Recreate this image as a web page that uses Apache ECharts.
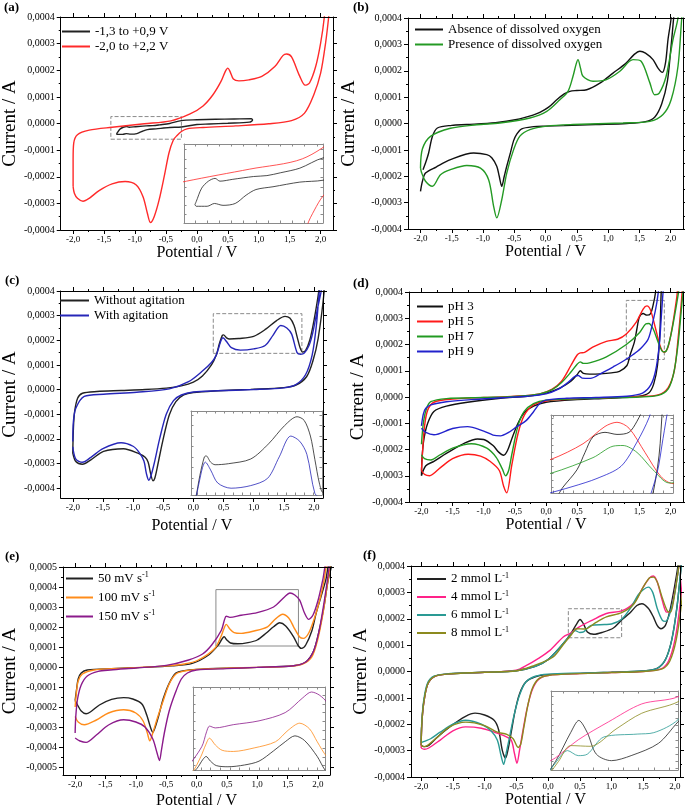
<!DOCTYPE html>
<html>
<head>
<meta charset="utf-8">
<script src="https://cdn.jsdelivr.net/npm/echarts@6/dist/echarts.min.js"></script>
<style>
html, body { margin: 0; padding: 0; background: #fff; }
#main { width: 685px; height: 810px; }
</style>
</head>
<body>
<div id="main"></div>
<script>
// currents are written in units of 1e-4 A, potentials in V
const UNIT = 1e-4;

const potMajor = [-2, -1.5, -1, -0.5, 0, 0.5, 1, 1.5, 2];
const potMinor = [-1.75, -1.25, -0.75, -0.25, 0.25, 0.75, 1.25, 1.75];
const curMajor4 = [-4, -3, -2, -1, 0, 1, 2, 3, 4];
const curMinor4 = [-3.5, -2.5, -1.5, -0.5, 0.5, 1.5, 2.5, 3.5];
const curMajor5 = [-5, -4, -3, -2, -1, 0, 1, 2, 3, 4, 5];
const curMinor5 = [-4.5, -3.5, -2.5, -1.5, -0.5, 0.5, 1.5, 2.5, 3.5, 4.5];

// (a) scan window
const aNarrow = [[-1.30,-0.39],[-1.29,-0.36],[-1.245,-0.215],[-1.19,-0.14],[-1.135,-0.11],[-1.095,-0.14],[-0.99,-0.12],[-0.82,-0.09],[-0.71,-0.08],[-0.6,-0.05],[-0.44,0.0],[-0.25,0.11],[0.0,0.14],[0.3,0.16],[0.6,0.17],[0.88,0.18],[0.9,0.13],[0.85,0.05],[0.5,0.01],[0.2,-0.02],[0.0,-0.04],[-0.25,-0.13],[-0.44,-0.15],[-0.66,-0.2],[-0.8,-0.23],[-0.88,-0.29],[-0.97,-0.38],[-1.07,-0.40],[-1.14,-0.38],[-1.2,-0.41],[-1.29,-0.41],[-1.30,-0.39]];
const aWide = [[-2.0,-2.37],[-2.0,-1.37],[-1.99,-0.74],[-1.93,-0.42],[-1.74,-0.25],[-1.37,-0.14],[-0.85,-0.01],[-0.42,0.10],[-0.11,0.36],[0.10,0.66],[0.26,1.08],[0.39,1.58],[0.46,1.96],[0.50,2.08],[0.535,1.96],[0.59,1.67],[0.68,1.60],[0.84,1.64],[1.05,1.77],[1.26,2.14],[1.39,2.55],[1.45,2.61],[1.53,2.50],[1.66,1.79],[1.75,1.44],[1.82,1.52],[1.92,2.14],[2.0,3.02],[2.06,4.0],[2.13,5.9],[2.21,5.9],[2.13,4.0],[2.08,3.02],[2.0,1.89],[1.89,1.08],[1.74,0.39],[1.53,0.11],[1.16,-0.01],[0.63,-0.09],[0.10,-0.15],[-0.16,-0.2],[-0.25,-0.30],[-0.32,-0.45],[-0.38,-0.62],[-0.45,-1.1],[-0.52,-1.9],[-0.61,-2.87],[-0.69,-3.5],[-0.75,-3.72],[-0.80,-3.37],[-0.87,-2.75],[-0.98,-2.31],[-1.16,-2.18],[-1.37,-2.27],[-1.58,-2.52],[-1.74,-2.81],[-1.84,-2.92],[-1.93,-2.81],[-1.98,-2.62],[-2.0,-2.37]];
const aWindow = [[-1.39, -0.59], [-0.25, 0.26]];

// (b) dissolved oxygen
const bAbsent = [[-1.96,-1.75],[-1.92,-1.5],[-1.87,-1.12],[-1.81,-0.49],[-1.73,-0.17],[-1.5,-0.07],[-1.26,-0.04],[-0.8,0.03],[-0.46,0.15],[-0.2,0.32],[-0.09,0.42],[0.05,0.62],[0.18,0.9],[0.3,1.12],[0.39,1.22],[0.5,1.25],[0.66,1.28],[0.87,1.53],[1.08,1.91],[1.29,2.29],[1.42,2.62],[1.51,2.74],[1.6,2.67],[1.72,2.42],[1.8,2.1],[1.87,1.94],[1.92,2.3],[1.96,3.18],[2.01,4.0],[2.05,5.5],[2.1,5.5],[2.05,4.0],[2.0,2.7],[1.95,1.6],[1.86,0.75],[1.75,0.25],[1.6,0.07],[1.3,0.0],[0.8,-0.04],[0.3,-0.08],[0.0,-0.1],[-0.19,-0.12],[-0.38,-0.2],[-0.46,-0.4],[-0.51,-0.65],[-0.56,-1.1],[-0.62,-1.62],[-0.66,-2.0],[-0.7,-2.38],[-0.74,-2.0],[-0.78,-1.62],[-0.86,-1.3],[-0.94,-1.18],[-1.15,-1.12],[-1.52,-1.37],[-1.75,-1.65],[-1.92,-1.88],[-1.97,-2.2],[-2.0,-2.57]];
const bPresent = [[-2.0,-1.69],[-1.97,-0.97],[-1.84,-0.49],[-1.52,-0.18],[-1.1,-0.05],[-0.73,0.02],[-0.25,0.21],[0.02,0.46],[0.23,0.90],[0.36,1.22],[0.44,1.79],[0.49,2.25],[0.52,2.42],[0.56,2.1],[0.6,1.79],[0.76,1.6],[0.975,1.66],[1.19,1.98],[1.40,2.42],[1.53,2.36],[1.67,1.54],[1.745,1.09],[1.82,1.15],[1.93,1.79],[2.04,3.18],[2.12,4.0],[2.18,5.5],[2.24,5.5],[2.18,4.0],[2.12,2.17],[2.01,0.9],[1.88,0.34],[1.67,0.08],[1.24,0.02],[0.44,-0.04],[0.02,-0.1],[-0.25,-0.23],[-0.41,-0.48],[-0.51,-0.99],[-0.62,-1.88],[-0.70,-2.89],[-0.78,-3.58],[-0.83,-3.14],[-0.91,-2.13],[-1.04,-1.69],[-1.26,-1.59],[-1.52,-1.75],[-1.68,-1.94],[-1.81,-2.38],[-1.92,-2.19],[-1.98,-1.88],[-2.0,-1.69]];

// (c) agitation
const cStill = [[-2.0,-2.58],[-1.99,-1.6],[-1.97,-0.9],[-1.92,-0.35],[-1.84,-0.15],[-1.6,-0.08],[-1.2,-0.04],[-0.8,0.0],[-0.45,0.06],[-0.2,0.15],[0.0,0.3],[0.15,0.55],[0.3,1.0],[0.38,1.4],[0.43,1.85],[0.48,2.2],[0.5,2.22],[0.55,2.1],[0.6,2.05],[0.75,2.07],[1.0,2.16],[1.2,2.45],[1.38,2.8],[1.52,2.97],[1.6,2.9],[1.67,2.6],[1.72,2.15],[1.77,1.7],[1.81,1.52],[1.86,1.58],[1.93,2.0],[2.0,2.8],[2.08,4.0],[2.14,5.3],[2.2,5.3],[2.17,4.0],[2.07,2.08],[1.98,1.14],[1.88,0.53],[1.71,0.19],[1.5,0.08],[0.95,0.01],[0.41,-0.05],[0.0,-0.12],[-0.16,-0.22],[-0.29,-0.49],[-0.4,-1.03],[-0.51,-2.11],[-0.59,-3.05],[-0.64,-3.6],[-0.67,-3.7],[-0.71,-3.4],[-0.75,-2.95],[-0.8,-2.75],[-0.92,-2.58],[-1.16,-2.4],[-1.49,-2.51],[-1.7,-2.85],[-1.84,-3.03],[-1.95,-2.92],[-2.0,-2.58]];
const cStirred = [[-2.0,-2.11],[-1.99,-1.3],[-1.95,-0.76],[-1.81,-0.28],[-1.49,-0.19],[-0.94,-0.11],[-0.4,0.03],[-0.08,0.32],[0.14,0.73],[0.3,1.1],[0.38,1.4],[0.42,1.7],[0.46,2.0],[0.49,2.1],[0.55,1.95],[0.63,1.7],[0.78,1.6],[1.0,1.65],[1.19,1.79],[1.32,2.2],[1.45,2.6],[1.55,2.5],[1.63,2.25],[1.72,1.5],[1.78,1.43],[1.84,1.48],[1.92,1.8],[1.98,2.3],[2.06,3.3],[2.12,4.0],[2.17,5.05],[2.15,5.05],[2.09,4.0],[2.04,2.6],[1.97,1.4],[1.86,0.6],[1.7,0.2],[1.5,0.07],[1.0,0.0],[0.4,-0.05],[0.0,-0.1],[-0.2,-0.22],[-0.33,-0.45],[-0.45,-1.0],[-0.56,-2.0],[-0.65,-3.0],[-0.71,-3.55],[-0.74,-3.68],[-0.78,-3.4],[-0.82,-2.9],[-0.9,-2.55],[-1.0,-2.3],[-1.2,-2.16],[-1.5,-2.4],[-1.7,-2.75],[-1.84,-2.95],[-1.95,-2.82],[-2.0,-2.32]];
const cWindow = [[0.33, 1.47], [1.8, 3.08]];

// (d) pH
const dPH3 = [[-2.0,-3.0],[-1.99,-2.3],[-1.96,-1.6],[-1.9,-1.0],[-1.8,-0.55],[-1.6,-0.35],[-1.26,-0.2],[-0.73,-0.05],[-0.3,0.03],[0.0,0.15],[0.23,0.35],[0.4,0.6],[0.5,0.85],[0.55,1.0],[0.6,0.9],[0.7,0.87],[0.87,0.88],[1.05,0.92],[1.18,0.98],[1.3,1.2],[1.35,1.6],[1.42,2.1],[1.46,2.6],[1.5,3.05],[1.56,3.18],[1.62,3.12],[1.68,3.18],[1.72,3.5],[1.76,4.0],[1.8,5.0],[1.88,5.0],[1.85,4.0],[1.83,2.5],[1.79,1.2],[1.73,0.5],[1.65,0.15],[1.5,0.03],[1.0,-0.05],[0.5,-0.1],[0.0,-0.2],[-0.2,-0.35],[-0.35,-0.6],[-0.45,-1.0],[-0.55,-1.6],[-0.62,-2.05],[-0.68,-2.22],[-0.76,-2.1],[-0.85,-1.85],[-1.0,-1.62],[-1.1,-1.6],[-1.3,-1.75],[-1.6,-2.15],[-1.8,-2.45],[-1.93,-2.62],[-2.0,-3.0]];
const dPH5 = [[-2.0,-2.8],[-1.98,-2.0],[-1.95,-1.1],[-1.9,-0.5],[-1.8,-0.2],[-1.5,-0.08],[-1.0,-0.02],[-0.5,0.03],[-0.1,0.12],[0.1,0.3],[0.25,0.6],[0.4,1.2],[0.5,1.6],[0.55,1.68],[0.62,1.7],[0.75,1.9],[0.97,2.12],[1.15,2.2],[1.29,2.4],[1.45,2.85],[1.56,3.35],[1.62,3.47],[1.68,3.3],[1.76,2.6],[1.84,1.9],[1.9,1.7],[1.96,1.9],[2.03,2.7],[2.1,3.8],[2.14,4.5],[2.2,4.5],[2.17,3.5],[2.12,2.2],[2.06,1.0],[1.96,0.35],[1.8,0.08],[1.5,0.02],[1.0,-0.03],[0.5,-0.07],[0.0,-0.15],[-0.2,-0.3],[-0.35,-0.7],[-0.45,-1.4],[-0.55,-2.6],[-0.63,-3.65],[-0.68,-3.4],[-0.75,-2.8],[-0.9,-2.45],[-1.05,-2.25],[-1.25,-2.18],[-1.5,-2.35],[-1.7,-2.7],[-1.87,-3.0],[-1.95,-2.95],[-2.0,-2.8]];
const dPH7 = [[-2.0,-1.8],[-1.97,-1.0],[-1.92,-0.45],[-1.85,-0.18],[-1.6,-0.06],[-1.0,-0.02],[-0.5,0.02],[-0.1,0.12],[0.1,0.28],[0.25,0.55],[0.4,0.95],[0.5,1.25],[0.55,1.34],[0.6,1.28],[0.7,1.3],[0.97,1.53],[1.29,2.0],[1.5,2.45],[1.6,2.78],[1.65,2.8],[1.72,2.6],[1.8,2.1],[1.88,1.72],[1.93,1.75],[2.0,2.3],[2.08,3.3],[2.15,4.3],[2.2,5.0],[2.24,5.0],[2.18,3.5],[2.12,2.0],[2.05,0.9],[1.96,0.3],[1.8,0.06],[1.5,0.0],[1.0,-0.03],[0.5,-0.07],[0.0,-0.12],[-0.2,-0.25],[-0.35,-0.55],[-0.45,-1.1],[-0.55,-2.2],[-0.6,-2.8],[-0.65,-3.0],[-0.7,-2.75],[-0.8,-2.3],[-0.95,-1.95],[-1.2,-1.78],[-1.5,-1.95],[-1.7,-2.2],[-1.85,-2.4],[-1.95,-2.35],[-2.0,-2.2]];
const dPH9 = [[-2.0,-1.1],[-1.97,-0.65],[-1.93,-0.43],[-1.85,-0.3],[-1.6,-0.18],[-1.2,-0.1],[-0.7,-0.03],[-0.3,0.03],[0.0,0.12],[0.2,0.3],[0.35,0.55],[0.46,0.78],[0.52,0.82],[0.58,0.72],[0.71,0.71],[0.9,0.92],[1.08,1.15],[1.25,1.38],[1.4,1.62],[1.52,1.85],[1.64,2.2],[1.72,2.9],[1.78,3.6],[1.83,4.5],[1.86,5.0],[1.92,5.0],[1.88,4.0],[1.85,3.0],[1.82,2.0],[1.76,1.0],[1.68,0.45],[1.55,0.15],[1.3,0.03],[0.8,-0.02],[0.33,-0.05],[0.0,-0.12],[-0.1,-0.25],[-0.2,-0.56],[-0.32,-0.9],[-0.47,-1.13],[-0.6,-1.35],[-0.73,-1.48],[-0.85,-1.45],[-1.0,-1.3],[-1.26,-1.13],[-1.5,-1.2],[-1.8,-1.44],[-1.93,-1.35],[-2.0,-1.19]];
const dWindow = [[1.29, 1.43], [1.9, 3.68]];

// (e) scan rate
const e50 = [[-2.0,-1.68],[-1.98,-1.2],[-1.95,-0.6],[-1.9,-0.3],[-1.8,-0.15],[-1.4,-0.08],[-0.88,-0.02],[-0.4,0.06],[-0.07,0.18],[0.2,0.6],[0.36,1.1],[0.42,1.4],[0.455,1.51],[0.5,1.35],[0.56,1.2],[0.68,1.16],[0.85,1.22],[1.0,1.35],[1.15,1.7],[1.27,2.01],[1.37,2.21],[1.47,2.05],[1.6,1.51],[1.68,1.05],[1.73,0.93],[1.8,1.1],[1.9,1.8],[1.97,2.67],[2.05,3.5],[2.13,4.34],[2.2,5.3],[2.25,5.3],[2.17,4.34],[2.1,3.0],[2.02,1.8],[1.93,0.8],[1.8,0.25],[1.6,0.06],[1.0,-0.02],[0.5,-0.06],[0.0,-0.12],[-0.2,-0.18],[-0.34,-0.3],[-0.45,-0.81],[-0.55,-1.6],[-0.62,-2.4],[-0.68,-3.0],[-0.72,-3.26],[-0.76,-3.0],[-0.82,-2.4],[-0.9,-1.85],[-1.05,-1.6],[-1.2,-1.53],[-1.4,-1.62],[-1.6,-1.9],[-1.75,-2.25],[-1.82,-2.34],[-1.9,-2.2],[-1.96,-1.9],[-2.0,-1.68]];
const e100 = [[-2.0,-2.0],[-1.98,-1.3],[-1.95,-0.7],[-1.88,-0.35],[-1.69,-0.15],[-1.3,-0.07],[-0.6,0.03],[-0.2,0.15],[0.03,0.35],[0.3,0.93],[0.4,1.5],[0.45,1.9],[0.49,2.13],[0.55,1.9],[0.62,1.72],[0.735,1.68],[0.95,1.8],[1.17,2.01],[1.3,2.4],[1.42,2.64],[1.52,2.45],[1.6,2.01],[1.7,1.5],[1.76,1.43],[1.85,1.7],[1.95,2.5],[2.03,3.34],[2.1,4.3],[2.17,5.3],[2.22,5.3],[2.15,4.0],[2.08,2.6],[2.0,1.4],[1.9,0.5],[1.75,0.15],[1.5,0.03],[1.0,-0.02],[0.5,-0.06],[0.0,-0.12],[-0.2,-0.2],[-0.34,-0.35],[-0.45,-0.85],[-0.55,-1.7],[-0.65,-2.6],[-0.72,-3.3],[-0.77,-3.69],[-0.81,-3.3],[-0.88,-2.7],[-1.0,-2.3],[-1.2,-2.14],[-1.45,-2.3],[-1.65,-2.65],[-1.85,-2.89],[-1.95,-2.75],[-2.0,-2.47]];
const e150 = [[-2.0,-3.3],[-1.99,-2.5],[-1.96,-1.6],[-1.9,-0.9],[-1.8,-0.45],[-1.62,-0.22],[-1.42,-0.15],[-1.0,-0.05],[-0.5,0.08],[-0.13,0.35],[0.1,0.65],[0.25,1.1],[0.41,1.84],[0.46,2.35],[0.49,2.54],[0.55,2.48],[0.735,2.59],[1.0,2.72],[1.27,3.0],[1.45,3.5],[1.54,3.70],[1.62,3.6],[1.70,3.34],[1.78,2.7],[1.85,2.38],[1.92,2.6],[2.0,3.3],[2.08,4.34],[2.15,5.3],[2.2,5.3],[2.15,4.2],[2.09,3.0],[2.02,1.8],[1.93,0.8],[1.8,0.25],[1.6,0.06],[1.0,-0.02],[0.5,-0.08],[0.0,-0.15],[-0.15,-0.3],[-0.25,-0.6],[-0.35,-1.3],[-0.45,-2.2],[-0.53,-3.3],[-0.58,-4.2],[-0.61,-4.68],[-0.65,-4.3],[-0.72,-3.6],[-0.85,-3.0],[-1.0,-2.75],[-1.2,-2.64],[-1.45,-2.9],[-1.65,-3.4],[-1.82,-3.77],[-1.92,-3.7],[-2.0,-3.55]];
const eWindow = [[0.32, 1.05], [1.68, 3.87]];

// (f) concentration
const f2 = [[-2.0,-2.8],[-1.99,-2.0],[-1.96,-1.2],[-1.9,-0.5],[-1.8,-0.2],[-1.6,-0.1],[-1.0,-0.03],[-0.5,0.03],[-0.2,0.2],[0.0,0.45],[0.2,0.95],[0.35,1.4],[0.45,1.8],[0.504,1.97],[0.56,1.8],[0.62,1.5],[0.72,1.41],[0.85,1.48],[1.03,1.65],[1.16,1.95],[1.29,2.22],[1.4,2.5],[1.48,2.57],[1.58,2.4],[1.66,2.07],[1.72,1.75],[1.78,1.62],[1.85,1.75],[1.92,2.3],[2.0,3.3],[2.06,4.2],[2.12,5.3],[2.16,5.3],[2.1,4.0],[2.03,2.4],[1.95,1.2],[1.85,0.45],[1.72,0.12],[1.5,0.02],[1.0,-0.03],[0.5,-0.07],[0.0,-0.12],[-0.2,-0.2],[-0.35,-0.4],[-0.45,-0.85],[-0.52,-1.5],[-0.58,-2.3],[-0.63,-2.95],[-0.67,-3.28],[-0.72,-3.0],[-0.78,-2.2],[-0.85,-1.85],[-1.0,-1.65],[-1.15,-1.58],[-1.3,-1.7],[-1.55,-2.1],[-1.75,-2.5],[-1.88,-2.8],[-1.95,-2.85],[-2.0,-2.8]];
const f4 = [[-2.0,-2.9],[-1.99,-2.0],[-1.96,-1.2],[-1.9,-0.5],[-1.8,-0.2],[-1.6,-0.1],[-1.0,-0.03],[-0.5,0.05],[-0.34,0.23],[-0.15,0.5],[0.03,0.8],[0.24,1.31],[0.35,1.45],[0.5,1.7],[0.7,1.95],[0.92,2.2],[1.16,2.3],[1.35,2.6],[1.5,3.2],[1.6,3.55],[1.66,3.62],[1.72,3.4],[1.8,2.7],[1.87,2.25],[1.92,2.25],[1.98,2.8],[2.05,3.8],[2.1,4.6],[2.15,5.3],[2.2,5.3],[2.14,4.0],[2.08,2.5],[2.0,1.2],[1.9,0.4],[1.78,0.1],[1.5,0.0],[1.0,-0.04],[0.5,-0.08],[0.0,-0.15],[-0.15,-0.3],[-0.25,-0.7],[-0.33,-1.4],[-0.4,-2.3],[-0.45,-3.0],[-0.49,-3.48],[-0.53,-3.1],[-0.58,-2.6],[-0.68,-2.45],[-0.85,-2.3],[-1.05,-2.15],[-1.3,-2.1],[-1.5,-2.25],[-1.7,-2.6],[-1.88,-2.9],[-1.95,-2.95],[-2.0,-2.9]];
const f6 = [[-2.0,-2.7],[-1.99,-1.9],[-1.96,-1.1],[-1.9,-0.45],[-1.8,-0.18],[-1.6,-0.09],[-1.0,-0.03],[-0.5,0.03],[-0.2,0.2],[0.0,0.45],[0.2,0.95],[0.35,1.38],[0.43,1.55],[0.5,1.48],[0.56,1.5],[0.67,1.74],[0.89,1.78],[1.0,1.8],[1.16,1.98],[1.3,2.4],[1.42,2.9],[1.5,3.1],[1.58,3.2],[1.65,3.0],[1.72,2.4],[1.8,1.95],[1.85,1.9],[1.92,2.2],[2.0,3.0],[2.06,4.0],[2.12,5.3],[2.16,5.3],[2.1,4.0],[2.03,2.4],[1.95,1.2],[1.85,0.45],[1.72,0.12],[1.5,0.02],[1.0,-0.03],[0.5,-0.06],[0.0,-0.1],[-0.2,-0.18],[-0.35,-0.4],[-0.45,-0.9],[-0.53,-1.6],[-0.6,-2.4],[-0.66,-3.1],[-0.7,-3.52],[-0.74,-3.2],[-0.8,-2.6],[-0.9,-2.25],[-1.05,-2.0],[-1.3,-1.85],[-1.5,-2.0],[-1.7,-2.3],[-1.85,-2.55],[-1.95,-2.65],[-2.0,-2.7]];
const f8 = [[-2.0,-2.8],[-1.99,-2.0],[-1.96,-1.2],[-1.9,-0.5],[-1.8,-0.2],[-1.6,-0.1],[-1.0,-0.03],[-0.5,0.03],[-0.25,0.2],[0.08,0.55],[0.25,1.05],[0.37,1.4],[0.45,1.62],[0.58,1.61],[0.75,1.85],[0.92,2.07],[1.16,2.23],[1.35,2.55],[1.5,3.2],[1.6,3.55],[1.66,3.58],[1.72,3.4],[1.8,2.8],[1.88,2.3],[1.93,2.25],[1.98,2.7],[2.05,3.8],[2.1,4.6],[2.16,5.3],[2.22,5.3],[2.16,4.0],[2.1,2.5],[2.02,1.2],[1.92,0.4],[1.8,0.1],[1.5,0.0],[1.0,-0.04],[0.5,-0.08],[0.0,-0.15],[-0.15,-0.28],[-0.25,-0.65],[-0.32,-1.3],[-0.38,-2.1],[-0.43,-2.75],[-0.47,-2.88],[-0.55,-2.55],[-0.65,-2.38],[-0.8,-2.3],[-1.0,-2.05],[-1.3,-1.92],[-1.55,-2.1],[-1.75,-2.5],[-1.9,-2.8],[-1.96,-2.85],[-2.0,-2.8]];
const fWindow = [[0.32, 1.28], [1.16, 2.38]];

const SERIF = '"Liberation Serif", "Times New Roman", serif';

const panels = [
  { label: '(a)', labelPos: [4, 1], grid: { left: 54, top: 17, width: 279, height: 213 },
    xr: [-2.2, 2.2], yr: [-4, 4], yMajor: curMajor4, yMinor: curMinor4, xGap: 15, yGap: 37,
    legend: { left: 62, top: 24, itemWidth: 28, lineHeight: 15 },
    lines: [ { name: '-1,3 to +0,9 V', data: aNarrow, color: '#222' },
             { name: '-2,0 to +2,2 V', data: aWide, color: '#ff2a2a' } ],
    win: aWindow, winType: 'dashed', inset: { left: 184, top: 144, width: 139, height: 79 } },
  { label: '(b)', labelPos: [353, 1], grid: { left: 408, top: 18, width: 275, height: 211 },
    xr: [-2.2, 2.2], yr: [-4, 4], yMajor: curMajor4, yMinor: curMinor4, xGap: 15, yGap: 49,
    legend: { left: 415, top: 22, itemWidth: 28, lineHeight: 15 },
    lines: [ { name: 'Absence of dissolved oxygen', data: bAbsent, color: '#111' },
             { name: 'Presence of dissolved oxygen', data: bPresent, color: '#249a24' } ] },
  { label: '(c)', labelPos: [5, 274], grid: { left: 56, top: 291, width: 267, height: 207 },
    xr: [-2.2, 2.15], yr: [-4.4, 4], yMajor: curMajor4, yMinor: curMinor4, xGap: 20, yGap: 38,
    legend: { left: 60, top: 293, itemWidth: 29, lineHeight: 15 },
    lines: [ { name: 'Without agitation', data: cStill, color: '#222' },
             { name: 'With agitation', data: cStirred, color: '#2626b8' } ],
    win: cWindow, winType: 'dashed', inset: { left: 191, top: 411, width: 131, height: 84 } },
  { label: '(d)', labelPos: [353, 277], grid: { left: 409, top: 292, width: 274, height: 210 },
    xr: [-2.2, 2.2], yr: [-4, 4], yMajor: curMajor4, yMinor: curMinor4, xGap: 13, yGap: 41,
    legend: { left: 417, top: 299, itemWidth: 26, lineHeight: 15 },
    lines: [ { name: 'pH 3', data: dPH3, color: '#111' },
             { name: 'pH 5', data: dPH5, color: '#ff1a1a' },
             { name: 'pH 7', data: dPH7, color: '#229a22' },
             { name: 'pH 9', data: dPH9, color: '#2222cc' } ],
    win: dWindow, winType: 'dashed', inset: { left: 551, top: 415, width: 122, height: 78 } },
  { label: '(e)', labelPos: [5, 550], grid: { left: 59, top: 567, width: 271, height: 209 },
    xr: [-2.2, 2.2], yr: [-5.4, 5], yMajor: curMajor5, yMinor: curMinor5, xGap: 18, yGap: 43,
    legend: { left: 66, top: 569, itemWidth: 27, lineHeight: 19 },
    lines: [ { name: '50 mV s-1', data: e50, color: '#222' },
             { name: '100 mV s-1', data: e100, color: '#ff8c1a' },
             { name: '150 mV s-1', data: e150, color: '#8b1a8b' } ],
    win: eWindow, winType: 'solid', inset: { left: 193, top: 687, width: 132, height: 83 } },
  { label: '(f)', labelPos: [363, 549], grid: { left: 411, top: 566, width: 269, height: 211 },
    xr: [-2.16, 2.08], yr: [-4, 4], yMajor: curMajor4, yMinor: curMinor4, xGap: 15, yGap: 40,
    legend: { left: 417, top: 570, itemWidth: 29, lineHeight: 18 },
    lines: [ { name: '2 mmol L-1', data: f2, color: '#222' },
             { name: '4 mmol L-1', data: f4, color: '#ff2288' },
             { name: '6 mmol L-1', data: f6, color: '#2a9a94' },
             { name: '8 mmol L-1', data: f8, color: '#8c8a1e' } ],
    win: fWindow, winType: 'dashed', inset: { left: 551, top: 691, width: 127, height: 79 } }
];

const fmtPot = v => (Math.abs(v) < 1e-9 ? 0 : v).toFixed(1).replace('.', ',');
const fmtCur = v => (Math.abs(v) < 1e-12 ? 0 : v).toFixed(4).replace('.', ',');
const toAmp = pts => pts.map(p => [p[0], p[1] * UNIT]);

const grids = [], xAxes = [], yAxes = [], series = [], legends = [], graphics = [];
const black = { color: '#000', width: 1 };

panels.forEach(p => {
  const gi = grids.length;
  grids.push(Object.assign({ containLabel: false }, p.grid));
  const ymin = p.yr[0] * UNIT, ymax = p.yr[1] * UNIT;
  const yMaj = p.yMajor.map(v => v * UNIT), yMin = p.yMinor.map(v => v * UNIT);
  const xBase = { gridIndex: gi, type: 'value', min: p.xr[0], max: p.xr[1], splitLine: { show: false }, z: 3 };
  const yBase = { gridIndex: gi, type: 'value', min: ymin, max: ymax, splitLine: { show: false }, z: 3 };
  const xi = xAxes.length;
  xAxes.push(Object.assign({}, xBase, {
    position: 'bottom',
    axisLine: { onZero: false, lineStyle: black },
    axisTick: { customValues: potMajor, length: 4, lineStyle: black },
    axisLabel: { customValues: potMajor, formatter: fmtPot, fontSize: 9, margin: 5, color: '#000', fontFamily: SERIF },
    name: 'Potential / V', nameLocation: 'middle', nameGap: p.xGap,
    nameTextStyle: { fontSize: 16, fontFamily: SERIF, color: '#000' }
  }));
  xAxes.push(Object.assign({}, xBase, { position: 'bottom', axisLine: { show: false, onZero: false },
    axisTick: { customValues: potMinor, length: 2, lineStyle: black }, axisLabel: { show: false } }));
  xAxes.push(Object.assign({}, xBase, { position: 'top', axisLine: { onZero: false, lineStyle: black },
    axisTick: { customValues: potMajor, length: 4, lineStyle: black }, axisLabel: { show: false } }));
  xAxes.push(Object.assign({}, xBase, { position: 'top', axisLine: { show: false, onZero: false },
    axisTick: { customValues: potMinor, length: 2, lineStyle: black }, axisLabel: { show: false } }));
  const yi = yAxes.length;
  yAxes.push(Object.assign({}, yBase, {
    position: 'left',
    axisLine: { onZero: false, lineStyle: black },
    axisTick: { customValues: yMaj, length: 4, lineStyle: black },
    axisLabel: { customValues: yMaj, formatter: fmtCur, fontSize: 10, margin: 6, color: '#000', fontFamily: SERIF },
    name: 'Current / A', nameLocation: 'middle', nameGap: p.yGap, nameRotate: 90,
    nameTextStyle: { fontSize: 19, fontFamily: SERIF, color: '#000' }
  }));
  yAxes.push(Object.assign({}, yBase, { position: 'left', axisLine: { show: false, onZero: false },
    axisTick: { customValues: yMin, length: 2, lineStyle: black }, axisLabel: { show: false } }));
  yAxes.push(Object.assign({}, yBase, { position: 'right', axisLine: { onZero: false, lineStyle: black },
    axisTick: { customValues: yMaj, length: 4, lineStyle: black }, axisLabel: { show: false } }));
  yAxes.push(Object.assign({}, yBase, { position: 'right', axisLine: { show: false, onZero: false },
    axisTick: { customValues: yMin, length: 2, lineStyle: black }, axisLabel: { show: false } }));

  p.lines.forEach((l, k) => {
    const s = {
      type: 'line', name: l.name, xAxisIndex: xi, yAxisIndex: yi, data: toAmp(l.data),
      showSymbol: false, symbol: 'none', smooth: 0.3, z: 2,
      lineStyle: { color: l.color, width: 1.4 }, itemStyle: { color: l.color }
    };
    if (k === 0 && p.win) {
      s.markArea = {
        silent: true,
        itemStyle: { color: 'rgba(0,0,0,0)', borderColor: '#8a8a8a', borderWidth: 1, borderType: p.winType },
        data: [[{ coord: [p.win[0][0], p.win[0][1] * UNIT] }, { coord: [p.win[1][0], p.win[1][1] * UNIT] }]]
      };
    }
    series.push(s);
  });

  legends.push({
    left: p.legend.left, top: p.legend.top, orient: 'vertical', padding: 0, itemGap: 0,
    itemWidth: p.legend.itemWidth, itemHeight: 2, icon: 'rect', selectedMode: false,
    data: p.lines.map(l => l.name),
    formatter: n => n.replace(/ (s|L)-1$/, ' $1{sup|-1}'),
    textStyle: { fontSize: 13, fontFamily: SERIF, color: '#000', lineHeight: p.legend.lineHeight,
      rich: { sup: { fontSize: 8, fontFamily: SERIF, color: '#000', padding: [0, 0, 7, 0] } } }
  });

  graphics.push({ type: 'text', left: p.labelPos[0], top: p.labelPos[1],
    style: { text: p.label, font: 'bold 13px ' + SERIF, fill: '#000' } });

  if (p.inset) {
    const ig = grids.length;
    grids.push(Object.assign({ show: true, backgroundColor: '#fff', borderWidth: 0, z: 5 }, p.inset));
    const gray = { color: '#8a8a8a', width: 1 };
    const ixBase = { gridIndex: ig, type: 'value', min: p.win[0][0], max: p.win[1][0], splitNumber: 10,
      splitLine: { show: false }, axisLabel: { show: false }, z: 6,
      axisLine: { onZero: false, lineStyle: gray }, axisTick: { inside: true, length: 2.5, lineStyle: gray } };
    const iyBase = { gridIndex: ig, type: 'value', min: p.win[0][1] * UNIT, max: p.win[1][1] * UNIT, splitNumber: 10,
      splitLine: { show: false }, axisLabel: { show: false }, z: 6,
      axisLine: { onZero: false, lineStyle: gray }, axisTick: { inside: true, length: 2.5, lineStyle: gray } };
    const ixi = xAxes.length;
    xAxes.push(Object.assign({ position: 'bottom' }, ixBase));
    xAxes.push(Object.assign({ position: 'top' }, ixBase));
    const iyi = yAxes.length;
    yAxes.push(Object.assign({ position: 'left' }, iyBase));
    yAxes.push(Object.assign({ position: 'right' }, iyBase));
    p.lines.forEach(l => {
      series.push({
        type: 'line', name: l.name, xAxisIndex: ixi, yAxisIndex: iyi, data: toAmp(l.data),
        showSymbol: false, symbol: 'none', smooth: 0.3, z: 7, clip: true,
        lineStyle: { color: l.color, width: 0.8 }, itemStyle: { color: l.color }
      });
    });
  }
});

const chart = echarts.init(document.getElementById('main'), null, { renderer: 'canvas' });
chart.setOption({
  backgroundColor: '#fff',
  animation: false,
  grid: grids,
  xAxis: xAxes,
  yAxis: yAxes,
  legend: legends,
  graphic: graphics,
  series: series
});
</script>
</body>
</html>
